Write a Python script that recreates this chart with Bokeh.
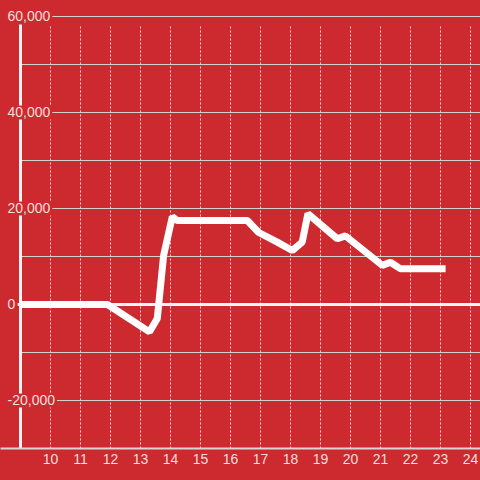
from bokeh.plotting import figure
from bokeh.models import Range1d, FixedTicker
from bokeh.core.properties import value
from bokeh.embed import file_html
from bokeh.resources import INLINE

# ---- data ----
xs = [9, 11.9, 13.3, 13.56, 13.77, 14.06, 14.22, 16.56, 16.94, 17.56, 18.06, 18.39, 18.58,
      19.56, 19.83, 21.06, 21.33, 21.67, 23.17]
ys = [0, 0, -5700, -2900, 10200, 18300, 17500, 17500, 15000, 13000, 11250, 13000, 18900,
      13700, 14300, 8150, 8800, 7430, 7430]
x_ticks = list(range(10, 25))
y_label_ticks = [60000, 40000, 20000, 0, -20000]
y_grid_ticks = [60000, 50000, 40000, 30000, 20000, 10000, -10000, -20000]
y_labels = ["60,000", "40,000", "20,000", "0", "-20,000"]

BG = "#cc2a2e"
FG = "#f4dede"
X_START, X_END = 9, 24.4
Y_BOTTOM, Y_TOP_AXIS = -30000, 58333

p = figure(width=480, height=480, output_backend="svg", toolbar_location=None,
           x_range=Range1d(8.3333, 24.3333), y_range=Range1d(-30000, 63333.3),
           y_axis_location=None, x_axis_location="below",
           min_border_left=0, min_border_right=0, min_border_top=0, min_border_bottom=32)
p.background_fill_color = BG
p.border_fill_color = BG
p.outline_line_color = None
p.grid.visible = False

ax = p.xaxis[0]
ax.ticker = FixedTicker(ticks=x_ticks)
ax.major_tick_line_color = None
ax.minor_tick_line_color = None
ax.major_tick_out = 0
ax.major_label_standoff = 5
ax.axis_line_color = "#d6d6d6"
ax.axis_line_width = 2
ax.major_label_text_color = FG
ax.major_label_text_font = "Liberation Sans"
ax.major_label_text_font_size = "14px"

# horizontal grid lines
p.segment(x0=[X_START] * len(y_grid_ticks), x1=[X_END] * len(y_grid_ticks),
          y0=y_grid_ticks, y1=y_grid_ticks, line_color="#d4d4d4", line_width=1)
# vertical dotted grid lines
p.segment(x0=x_ticks, x1=x_ticks, y0=[Y_BOTTOM] * len(x_ticks), y1=[Y_TOP_AXIS] * len(x_ticks),
          line_color="#e2e2e2", line_width=1, line_dash="2 2")
# left axis line
p.segment(x0=[X_START], x1=[X_START], y0=[Y_BOTTOM], y1=[Y_TOP_AXIS],
          line_color="#f4f4f4", line_width=3)
# zero line
p.segment(x0=[X_START - 0.1], x1=[X_END], y0=[0], y1=[0], line_color="#f4f4f4", line_width=3)

# y labels
p.text(x=[8.5] * len(y_label_ticks), y=y_label_ticks, text=y_labels,
       text_align="left", text_baseline="middle", text_color=FG,
       text_font=value("Liberation Sans"), text_font_size="14px",
       background_fill_color=BG, padding=2)

# data line
p.line(xs, ys, line_color="white", line_width=7, line_join="bevel")

html = file_html(p, INLINE)
html = html.replace("<head>", "<head><style>body{background:%s;}</style>" % BG, 1)
open("out.html", "w").write(html)
